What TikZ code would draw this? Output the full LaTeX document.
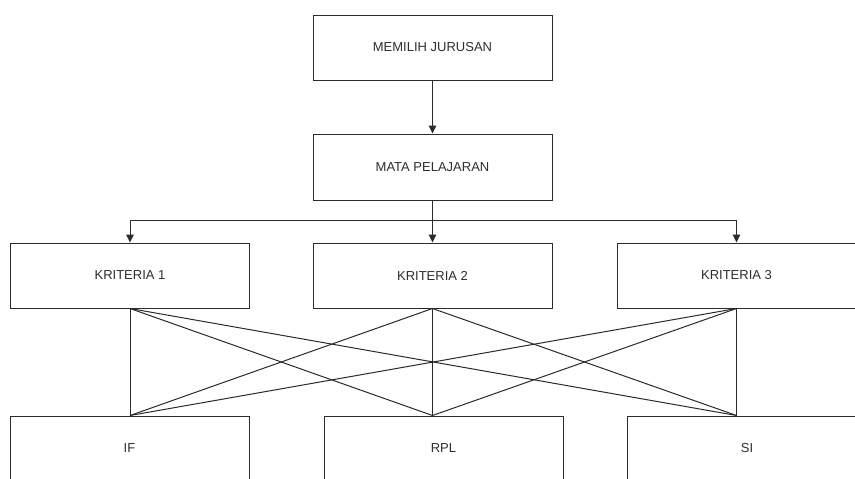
\documentclass[tikz,border=0pt]{standalone}
\usepackage{fontspec}
\setmainfont{Liberation Sans}
\usetikzlibrary{arrows.meta,calc}
\definecolor{ink}{HTML}{2E2E2E}
\definecolor{edge}{HTML}{2B2B2B}
\tikzset{
  box/.style={draw=edge, line width=1pt, fill=white, rectangle, minimum width=239pt, minimum height=65pt, inner sep=0pt, text=ink, font=\fontsize{13}{15}\selectfont},
  link/.style={draw=edge, line width=1pt},
  arr/.style={link, -{Triangle[length=8pt,width=7.5pt]}}
}
\begin{document}
\begin{tikzpicture}[x=1pt,y=1pt]
\useasboundingbox (0,0) rectangle (855,-479);
\clip (0,0) rectangle (855,-479);
\fill[white] (0,0) rectangle (855,-479);
\node[box] (memilih) at (432.5,-47.5) {MEMILIH JURUSAN};
\node[box, minimum height=66pt] (mata) at (432.5,-167) {MATA PELAJARAN};
\node[box] (k1) at (130,-275.5) {KRITERIA 1};
\node[box] (k2) at (432.5,-275.5) {KRITERIA 2};
\node[box] (k3) at (736.5,-275.5) {KRITERIA 3};
\node[box] (if) at (129.5,-448.5) {IF};
\node[box] (rpl) at (443.5,-448.5) {RPL};
\node[box] (si) at (747,-448.5) {SI};
\coordinate (bus) at (432.5,-220);
\coordinate (ifin) at (if.north -| k1.south);
\coordinate (rplin) at (rpl.north -| k2.south);
\coordinate (siin) at (si.north -| k3.south);
\draw[arr] (memilih.south) -- (mata.north);
\draw[arr] (mata.south) -- (bus) -| (k1.north);
\draw[arr] (mata.south) -- (k2.north);
\draw[arr] (mata.south) -- (bus) -| (k3.north);
\foreach \k in {k1,k2,k3}{
  \draw[link] (\k.south) -- (ifin);
  \draw[link] (\k.south) -- (rplin);
  \draw[link] (\k.south) -- (siin);
}
\end{tikzpicture}
\end{document}
